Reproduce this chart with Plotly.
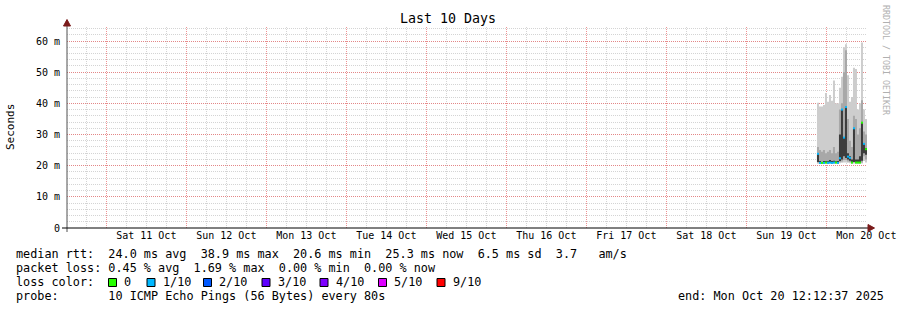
import plotly.graph_objects as go

# ---------------- data (RTT in milliseconds) ----------------
start_time = "2025-10-10 12:12:37"
end_time = "2025-10-20 12:12:37"
times = [
    "2025-10-19 21:12", "2025-10-19 21:48", "2025-10-19 22:24", "2025-10-19 23:00",
    "2025-10-19 23:36", "2025-10-20 00:12", "2025-10-20 00:48", "2025-10-20 01:24",
    "2025-10-20 02:00", "2025-10-20 02:36", "2025-10-20 03:12", "2025-10-20 03:48",
    "2025-10-20 04:24", "2025-10-20 05:00", "2025-10-20 05:36", "2025-10-20 06:12",
    "2025-10-20 06:48", "2025-10-20 07:24", "2025-10-20 08:00", "2025-10-20 08:36",
    "2025-10-20 09:12", "2025-10-20 09:48", "2025-10-20 10:24", "2025-10-20 11:00",
    "2025-10-20 11:36",
]
ping_min = [20.6, 20.5, 20.5, 20.5, 20.6, 20.5, 20.6, 20.5, 20.6, 20.6, 20.5, 20.8, 20.9,
            21.0, 21.0, 20.9, 20.8, 20.6, 20.7, 20.6, 20.6, 20.6, 20.7, 21.5, 21.0]
ping_q1 = [21.0, 20.7, 20.7, 20.7, 20.8, 20.7, 20.8, 20.7, 20.8, 20.8, 20.7, 21.2, 21.3,
           21.8, 21.8, 21.3, 21.2, 20.8, 21.0, 20.8, 20.8, 20.8, 21.0, 23.0, 22.0]
ping_c1 = [21.2, 20.8, 20.8, 20.8, 20.9, 20.8, 20.9, 20.8, 20.9, 20.9, 20.8, 21.5, 22.0,
           23.0, 22.5, 22.0, 21.6, 20.9, 21.2, 20.9, 20.9, 20.9, 21.6, 24.0, 23.5]
ping_c2 = [24.0, 21.5, 21.2, 21.5, 21.5, 21.4, 21.8, 21.5, 21.6, 21.4, 21.5, 30.0, 38.0,
           29.0, 38.8, 24.0, 23.0, 22.0, 32.0, 22.0, 22.0, 23.0, 33.8, 27.0, 25.7]
ping_q3 = [26.0, 25.0, 24.5, 25.0, 24.0, 24.5, 25.0, 24.0, 26.0, 24.0, 24.5, 38.0, 40.0,
           50.0, 57.0, 35.0, 28.0, 26.0, 36.0, 35.0, 30.0, 32.0, 41.0, 31.0, 30.0]
ping_max = [40.2, 39.0, 39.0, 39.5, 43.3, 40.5, 42.7, 40.8, 47.3, 40.0, 40.0, 45.0, 48.5,
            58.0, 59.0, 49.0, 40.5, 42.0, 51.4, 51.0, 38.0, 40.0, 59.5, 38.0, 35.0]
median_rtt = [23.8, 20.9, 20.9, 20.9, 21.0, 20.9, 21.0, 20.9, 21.0, 21.0, 20.9, 22.4, 38.0,
              29.0, 38.8, 22.9, 22.5, 21.0, 32.0, 21.0, 21.0, 21.0, 33.8, 27.0, 25.3]
loss_tenths = [1, 1, 0, 1, 0, 1, 1, 1, 1, 0, 1, 1, 1, 1, 1, 1, 1, 0, 1, 0, 0, 0, 0, 1, 0]

loss_levels = [0, 1, 2, 3, 4, 5, 9]
loss_labels = ["0", "1/10", "2/10", "3/10", "4/10", "5/10", "9/10"]
loss_colors = ["#26ff00", "#00b8ff", "#0059ff", "#5e00ff", "#7e00ff", "#dd00ff", "#ff0000"]

y_tickvals = [0, 10, 20, 30, 40, 50, 60]
y_ticktext = ["0", "10 m", "20 m", "30 m", "40 m", "50 m", "60 m"]

stats_lines = [
    "median rtt:  24.0 ms avg  38.9 ms max  20.6 ms min  25.3 ms now  6.5 ms sd  3.7   am/s",
    "packet loss: 0.45 % avg  1.69 % max  0.00 % min  0.00 % now",
]
loss_title = "loss color:"
probe_line = "probe:       10 ICMP Echo Pings (56 Bytes) every 80s"
end_line = "end: Mon Oct 20 12:12:37 2025"
title_text = "Last 10 Days"
y_title = "Seconds"
credit = "RRDTOOL / TOBI OETIKER"

# ---------------- layout geometry ----------------
W, H = 897, 310
PL, PT, PW, PH = 67, 27, 800, 201
FONT = "DejaVu Sans Mono"
TX = -2  # annotation text inset correction


def fx(p):
    return (p - PL) / PW


def fy(p):
    return (PT + PH - p) / PH


def nb(s):
    return s.replace(" ", "\u00a0")


xs = times + [end_time]


def ext(a):
    return list(a) + [a[-1]]


fig = go.Figure()

bands = [
    (ping_min, ping_max, "#cdcdcd"),
    (ping_q1, ping_q3, "#a8a8a8"),
    (ping_c1, ping_c2, "#3c3c3c"),
]
for lo, hi, col in bands:
    fig.add_trace(go.Scatter(x=xs, y=ext(lo), mode="lines", line=dict(width=0, shape="hv"),
                             hoverinfo="skip", showlegend=False))
    fig.add_trace(go.Scatter(x=xs, y=ext(hi), mode="lines", line=dict(width=0, shape="hv"),
                             fill="tonexty", fillcolor=col, hoverinfo="skip", showlegend=False))

# median line, coloured by loss
for lvl, col in zip(loss_levels, loss_colors):
    sx, sy = [], []
    for i, (m, l) in enumerate(zip(median_rtt, loss_tenths)):
        if l == lvl:
            sx += [xs[i], xs[i + 1], None]
            sy += [m, m, None]
    if sx:
        fig.add_trace(go.Scatter(x=sx, y=sy, mode="lines", line=dict(width=2, color=col),
                                 hoverinfo="skip", showlegend=False))

annotations = []
annotations.append(dict(text=title_text, x=fx(448), y=fy(19), xref="paper", yref="paper",
                        xanchor="center", yanchor="middle", showarrow=False,
                        font=dict(family=FONT, size=13.3, color="#000")))
annotations.append(dict(text=y_title, x=fx(11), y=fy(127), xref="paper", yref="paper",
                        xanchor="center", yanchor="middle", showarrow=False, textangle=-90,
                        font=dict(family=FONT, size=11, color="#000")))
annotations.append(dict(text=nb(credit), x=fx(886), y=fy(60), xref="paper", yref="paper",
                        xanchor="center", yanchor="middle", showarrow=False, textangle=90,
                        font=dict(family=FONT, size=8.3, color="#b0b0b0")))
for k, line in enumerate(stats_lines):
    annotations.append(dict(text=nb(line), x=fx(16 + TX), y=fy(254 + 14 * k), xref="paper",
                            yref="paper", xanchor="left", yanchor="middle", showarrow=False,
                            font=dict(family=FONT, size=11.8, color="#000")))
annotations.append(dict(text=nb(loss_title), x=fx(16 + TX), y=fy(282), xref="paper", yref="paper",
                        xanchor="left", yanchor="middle", showarrow=False,
                        font=dict(family=FONT, size=11.8, color="#000")))
annotations.append(dict(text=nb(probe_line), x=fx(16 + TX), y=fy(296), xref="paper", yref="paper",
                        xanchor="left", yanchor="middle", showarrow=False,
                        font=dict(family=FONT, size=11.8, color="#000")))
annotations.append(dict(text=nb(end_line), x=fx(678 + TX), y=fy(296), xref="paper", yref="paper",
                        xanchor="left", yanchor="middle", showarrow=False,
                        font=dict(family=FONT, size=11.8, color="#000")))

shapes = []
box_left = [108.5, 147, 203.5, 262, 320, 378.5, 437]
for bl, lab, col in zip(box_left, loss_labels, loss_colors):
    shapes.append(dict(type="rect", xref="paper", yref="paper",
                       x0=fx(bl), x1=fx(bl + 8), y0=fy(278.5), y1=fy(286.5),
                       fillcolor=col, line=dict(color="#000", width=1)))
    annotations.append(dict(text=lab, x=fx(bl + 15.5 + TX), y=fy(282), xref="paper", yref="paper",
                            xanchor="left", yanchor="middle", showarrow=False,
                            font=dict(family=FONT, size=11.8, color="#000")))

# axis extensions and arrows
shapes.append(dict(type="line", xref="paper", yref="paper", x0=fx(67), x1=fx(67),
                   y0=fy(232), y1=fy(22), line=dict(color="#505050", width=1)))
shapes.append(dict(type="line", xref="paper", yref="paper", x0=fx(62), x1=fx(870),
                   y0=fy(228), y1=fy(228), line=dict(color="#000", width=1)))
shapes.append(dict(type="path", xref="paper", yref="paper",
                   path=f"M {fx(63.5)} {fy(26)} L {fx(67)} {fy(19.5)} L {fx(70.5)} {fy(26)} Z",
                   fillcolor="#7a1a1a", line=dict(color="#7a1a1a", width=1)))
shapes.append(dict(type="path", xref="paper", yref="paper",
                   path=f"M {fx(868)} {fy(224.5)} L {fx(874.5)} {fy(228)} L {fx(868)} {fy(231.5)} Z",
                   fillcolor="#7a1a1a", line=dict(color="#7a1a1a", width=1)))

fig.update_layout(
    width=W, height=H,
    margin=dict(l=PL, r=W - PL - PW, t=PT, b=H - PT - PH, pad=0, autoexpand=False),
    paper_bgcolor="white", plot_bgcolor="white",
    showlegend=False,
    annotations=annotations,
    shapes=shapes,
    xaxis=dict(
        type="date", range=[start_time, end_time], automargin=False,
        tick0="2025-10-11 00:00", dtick=86400000, ticklabelmode="period",
        tickformat="%a %d %b", ticks="", showline=False, zeroline=False,
        showgrid=True, gridcolor="rgba(232,110,110,0.75)", griddash="1px,1px", gridwidth=1,
        minor=dict(dtick=21600000, showgrid=True, gridcolor="#d4d4d4", griddash="1px,1px"),
        tickfont=dict(family=FONT, size=10, color="#000"),
    ),
    yaxis=dict(
        range=[0, 64.5], tickvals=y_tickvals, ticktext=y_ticktext, automargin=False,
        ticks="", showline=False, zeroline=False,
        showgrid=True, gridcolor="rgba(232,110,110,0.75)", griddash="1px,1px", gridwidth=1,
        minor=dict(dtick=2, showgrid=True, gridcolor="#d4d4d4", griddash="1px,1px"),
        tickfont=dict(family=FONT, size=10, color="#000"),
        ticklabelstandoff=6,
    ),
)

fig.write_html("out.html")
